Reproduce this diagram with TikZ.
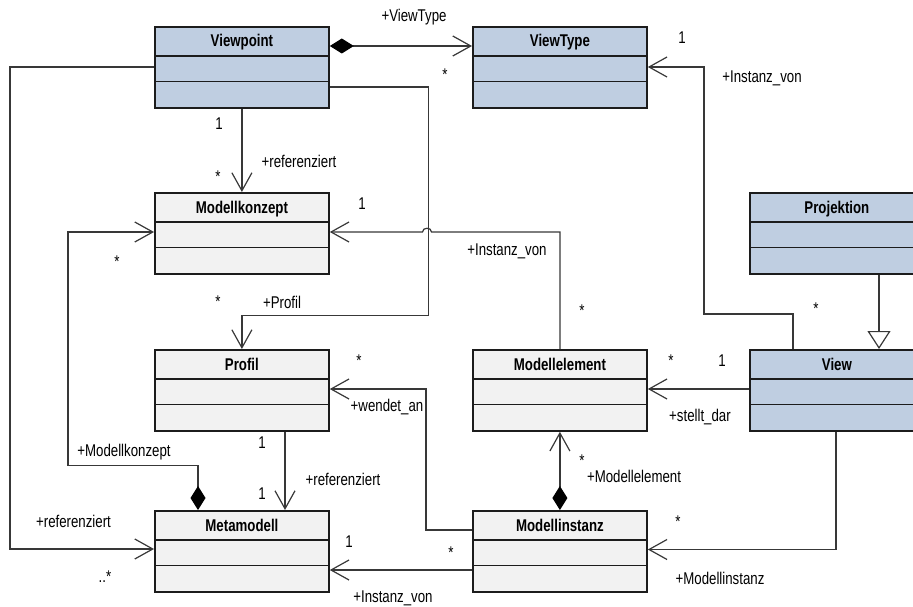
\documentclass[tikz,border=0pt]{standalone}
\usepackage{fontspec}
\setmainfont[FakeStretch=0.78]{Liberation Sans}
\usetikzlibrary{arrows.meta,calc}
\definecolor{umlblue}{HTML}{BFCEE1}
\definecolor{umlgray}{HTML}{F2F2F2}
\definecolor{edgecol}{HTML}{383838}
\definecolor{framecol}{HTML}{1C1C1C}
\tikzset{
  classbox/.style={draw=framecol, line width=1.8pt, minimum width=174pt,
    minimum height=81pt, inner sep=0pt, anchor=north west},
  compsep/.style={draw=framecol, line width=1.8pt},
  classtitle/.style={font=\bfseries\fontsize{17}{20}\selectfont, anchor=base, inner sep=0pt},
  lbl/.style={font=\fontsize{17}{20}\selectfont, inner sep=0pt},
  conn/.style={draw=edgecol, line width=1.2pt},
  nav/.style={conn, -{Straight Barb[length=18pt,width=20pt]}},
  compnav/.style={conn, {Diamond[length=24pt,width=15pt,fill=black,color=black]}-{Straight Barb[length=18pt,width=20pt]}},
  gen/.style={conn, -{Triangle[open,length=18pt,width=23pt,fill=white]}},
}
% class box with name compartment and two empty compartments
\newcommand\umlcls[5]{%
  \node[classbox, fill=#5] (#1) at (#2,#3) {};
  \draw[compsep] ($(#1.north west)+(0,30)$) -- ($(#1.north east)+(0,30)$);
  \draw[compsep] ($(#1.north west)+(0,55.5)$) -- ($(#1.north east)+(0,55.5)$);
  \node[classtitle] (#1-t) at ($(#1.north)+(0,21)$) {#4};
}
\begin{document}
\begin{tikzpicture}[x=1pt,y=-1pt]
\useasboundingbox (0,0) rectangle (913,607);
\clip (0,0) rectangle (913,607);

% classes
\umlcls{vp}{154}{26}{Viewpoint}{umlblue}
\umlcls{vt}{472}{26}{ViewType}{umlblue}
\umlcls{mk}{154}{192}{Modellkonzept}{umlgray}
\umlcls{pj}{749}{192}{Projektion}{umlblue}
\umlcls{pr}{154}{349}{Profil}{umlgray}
\umlcls{me}{472}{349}{Modellelement}{umlgray}
\umlcls{vw}{749}{349}{View}{umlblue}
\umlcls{mm}{154}{510}{Metamodell}{umlgray}
\umlcls{mi}{472}{510}{Modellinstanz}{umlgray}

% Viewpoint -> ViewType (composition)
\draw[compnav] ($(vp.north east)+(0,20)$) -- ($(vt.north west)+(0,20)$);
% Viewpoint -> Metamodell
\draw[nav] ($(vp.north west)+(0,41)$) -- ++(-144,0) |- ($(mm.north west)+(0,39)$);
% Viewpoint -> Profil
\draw[nav] ($(vp.north east)+(0,61)$) -- ++(99,0) -- ++(0,228.5) -| (pr.north);
% Viewpoint -> Modellkonzept
\draw[nav] (vp.south) -- (mk.north);
% Modellelement -> Modellkonzept (hops over the Profil line)
\draw[nav] (me.north) -- ++(0,-117) -- (431.5,232)
  .. controls (431.5,227) and (422.5,227) .. (422.5,232)
  -- ($(mk.north east)+(0,40)$);
% Metamodell -> Modellkonzept (composition)
\draw[compnav] ($(mm.north west)+(44,0)$) -- ++(0,-44.5) -- ++(-130,0) |- ($(mk.north west)+(0,40)$);
% Profil -> Metamodell
\draw[nav] ($(pr.south west)+(131,0)$) -- ($(mm.north west)+(131,0)$);
% Modellinstanz -> Profil
\draw[nav] ($(mi.north west)+(0,20)$) -- ++(-46,0) |- ($(pr.north east)+(0,40)$);
% Modellinstanz -> Metamodell
\draw[nav] ($(mi.north west)+(0,60)$) -- ($(mm.north east)+(0,60)$);
% View -> Modellelement
\draw[nav] ($(vw.north west)+(0,40)$) -- ($(me.north east)+(0,40)$);
% Modellinstanz -> Modellelement (composition)
\draw[compnav] (mi.north) -- (me.south);
% View -> Modellinstanz
\draw[nav] ($(vw.south west)+(87,0)$) |- ($(mi.north east)+(0,39.5)$);
% View -> ViewType
\draw[nav] ($(vw.north west)+(44,0)$) -- ++(0,-35) -- ++(-89,0) |- ($(vt.north east)+(0,41)$);
% Projektion -> View (generalization)
\draw[gen] ($(pj.south west)+(130,0)$) -- ($(vw.north west)+(130,0)$);

% role names and multiplicities
\node[lbl] (l1) at (414,17.5) {+ViewType};
\node[lbl] (l2) at (445,74.5) {*};
\node[lbl] (l3) at (219,124) {1};
\node[lbl] (l4) at (299,161) {+referenziert};
\node[lbl] (l5) at (218,176.5) {*};
\node[lbl] (l6) at (362,204) {1};
\node[lbl] (l7) at (117,261.5) {*};
\node[lbl] (l8) at (682,38) {1};
\node[lbl] (l9) at (762,78) {+Instanz\_von};
\node[lbl] (l10) at (507,251) {+Instanz\_von};
\node[lbl] (l11) at (582,310.5) {*};
\node[lbl] (l12) at (218,301.5) {*};
\node[lbl] (l13) at (282,302) {+Profil};
\node[lbl] (l14) at (359,360.5) {*};
\node[lbl] (l15) at (387,407) {+wendet\_an};
\node[lbl] (l16) at (262,443) {1};
\node[lbl] (l17) at (124,452) {+Modellkonzept};
\node[lbl] (l18) at (343,479) {+referenziert};
\node[lbl] (l19) at (262,494) {1};
\node[lbl] (l20) at (73.5,521) {+referenziert};
\node[lbl] (l21) at (105,577) {..*};
\node[lbl] (l22) at (349,542) {1};
\node[lbl] (l23) at (451,552.5) {*};
\node[lbl] (l24) at (393,598) {+Instanz\_von};
\node[lbl] (l25) at (671,360.5) {*};
\node[lbl] (l26) at (722,361) {1};
\node[lbl] (l27) at (700,417) {+stellt\_dar};
\node[lbl] (l28) at (582,460.5) {*};
\node[lbl] (l29) at (634,476) {+Modellelement};
\node[lbl] (l30) at (678,521.5) {*};
\node[lbl] (l31) at (720,578) {+Modellinstanz};
\node[lbl] (l32) at (816,308.5) {*};
\end{tikzpicture}
\end{document}
